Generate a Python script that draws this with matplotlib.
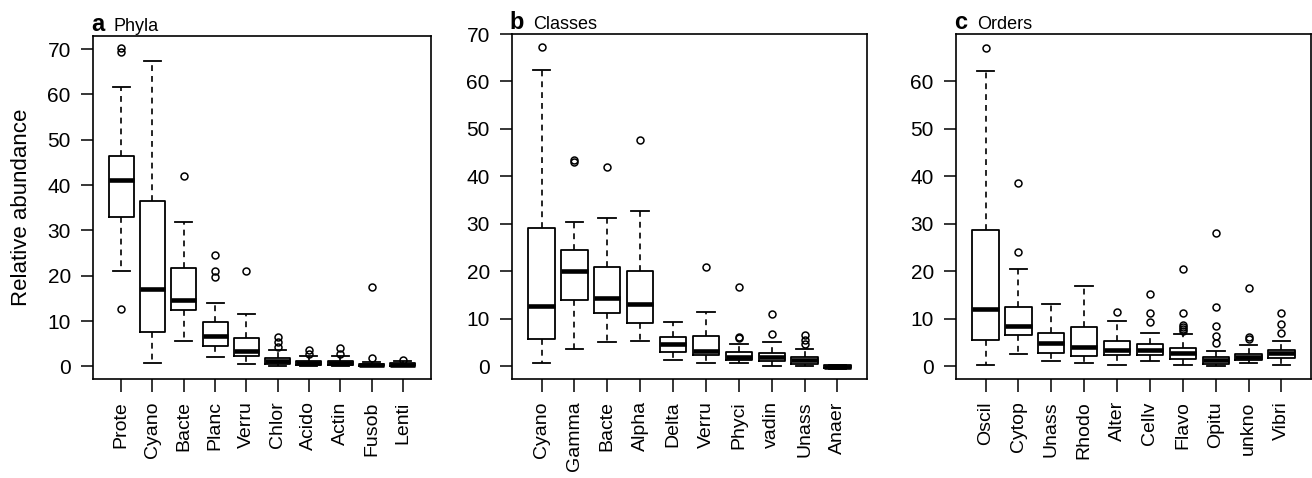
import matplotlib
matplotlib.use("Agg")
import matplotlib.pyplot as plt

plt.rcParams['font.family'] = ['Liberation Sans', 'DejaVu Sans']

# ---------------- data ----------------
phyla_labels = ["Prote", "Cyano", "Bacte", "Planc", "Verru", "Chlor", "Acido", "Actin", "Fusob", "Lenti"]
phyla_med = [41.1, 17.1, 14.6, 6.6, 3.3, 1.1, 0.7, 0.8, 0.2, 0.35]
phyla_q1 = [32.9, 7.6, 12.5, 4.4, 2.35, 0.5, 0.35, 0.4, 0.0, 0.1]
phyla_q3 = [46.5, 36.5, 21.7, 9.85, 6.25, 1.9, 1.2, 1.25, 0.6, 0.7]
phyla_lo = [21.0, 0.7, 5.5, 2.1, 0.6, 0.0, 0.05, 0.1, 0.0, 0.0]
phyla_hi = [61.6, 67.3, 31.9, 14.0, 11.5, 3.6, 2.3, 2.2, 1.0, 1.1]
phyla_fliers = [[69.4, 70.2, 12.7], [], [42.1], [24.6, 21.1, 19.7], [21.0],
                [6.4, 5.3, 4.3], [3.5, 2.8], [4.0, 2.7], [17.6, 1.8], [1.4]]

class_labels = ["Cyano", "Gamma", "Bacte", "Alpha", "Delta", "Verru", "Phyci", "vadin", "Unass", "Anaer"]
class_med = [12.7, 20.0, 14.3, 13.1, 4.7, 3.2, 2.0, 1.9, 1.2, -0.1]
class_q1 = [5.7, 14.0, 11.3, 9.1, 2.95, 2.4, 1.2, 1.0, 0.5, -0.3]
class_q3 = [29.2, 24.5, 20.9, 20.0, 6.25, 6.4, 2.9, 2.7, 1.95, 0.2]
class_lo = [0.6, 3.6, 5.2, 5.3, 1.2, 0.77, 0.77, 0.1, 0.1, -0.5]
class_hi = [62.4, 30.3, 31.2, 32.8, 9.3, 11.5, 4.6, 5.0, 3.7, 0.3]
class_fliers = [[67.2], [43.0, 43.4], [42.0], [47.7], [], [21.0],
                [16.7, 6.2, 5.9], [10.9, 6.7], [6.5, 5.5, 4.6], []]

order_labels = ["Oscil", "Cytop", "Unass", "Rhodo", "Alter", "Cellv", "Flavo", "Opitu", "unkno", "Vibri"]
order_med = [12.05, 8.5, 4.9, 4.1, 3.4, 3.4, 2.7, 1.3, 1.9, 2.7]
order_q1 = [5.5, 6.5, 2.7, 2.2, 2.3, 2.45, 1.5, 0.5, 1.2, 1.8]
order_q3 = [28.6, 12.4, 6.9, 8.3, 5.4, 4.7, 3.8, 2.0, 2.6, 3.5]
order_lo = [0.15, 2.6, 1.0, 0.6, 0.35, 1.0, 0.35, 0.0, 0.6, 0.35]
order_hi = [62.2, 20.4, 13.1, 16.8, 9.6, 7.0, 6.7, 3.1, 4.4, 5.2]
order_fliers = [[67.0], [38.6, 24.0], [], [], [11.3], [15.2, 11.1, 9.2],
                [20.4, 11.1, 8.7, 8.3, 7.8, 7.3], [28.0, 12.5, 8.5, 6.4, 4.8],
                [16.5, 6.1, 5.8], [11.2, 8.8, 6.9]]

panel_letters = ["a", "b", "c"]
panel_names = ["Phyla", "Classes", "Orders"]
y_label = "Relative abundance"

# ---------------- figure ----------------
W, H = 1312, 478
fig = plt.figure(figsize=(W / 100, H / 100), dpi=100)

def px_axes(left, right, top, bottom):
    return [left / W, 1 - bottom / H, (right - left) / W, (bottom - top) / H]

axes_rects = [px_axes(93, 431, 36, 379), px_axes(512, 867, 34, 379), px_axes(956, 1311, 34, 379)]
ylims = [(-2.8, 72.9), (-2.7, 70.0), (-2.7, 69.9)]
yticks = [list(range(0, 71, 10)), list(range(0, 71, 10)), list(range(0, 61, 10))]

datasets = [
    (phyla_labels, phyla_med, phyla_q1, phyla_q3, phyla_lo, phyla_hi, phyla_fliers),
    (class_labels, class_med, class_q1, class_q3, class_lo, class_hi, class_fliers),
    (order_labels, order_med, order_q1, order_q3, order_lo, order_hi, order_fliers),
]

for i, (labels, med, q1, q3, lo, hi, fl) in enumerate(datasets):
    ax = fig.add_axes(axes_rects[i])
    stats = []
    for j in range(len(labels)):
        stats.append(dict(label=labels[j], med=med[j], q1=q1[j], q3=q3[j],
                          whislo=lo[j], whishi=hi[j], fliers=fl[j]))
    ax.bxp(stats, positions=list(range(1, len(labels) + 1)), widths=0.8, capwidths=0.54,
           boxprops=dict(linewidth=1.3, color='black'),
           medianprops=dict(linewidth=3.3, color='black', solid_capstyle='butt'),
           whiskerprops=dict(linewidth=1.2, color='black', linestyle=(0, (3.5, 3))),
           capprops=dict(linewidth=1.3, color='black'),
           flierprops=dict(marker='o', markerfacecolor='none', markeredgecolor='black',
                           markersize=5, markeredgewidth=1.1, linestyle='none'))
    ax.set_xlim(0.1, len(labels) + 0.9)
    ax.set_ylim(*ylims[i])
    ax.set_yticks(yticks[i])
    ax.set_xticks(list(range(1, len(labels) + 1)))
    ax.set_xticklabels(labels, rotation=90, fontsize=14)
    ax.tick_params(axis='y', labelsize=15, length=9, width=1.1, pad=7)
    ax.tick_params(axis='x', length=9, width=1.1, pad=7)
    for sp in ax.spines.values():
        sp.set_linewidth(1.2)
    ax.annotate(panel_letters[i], xy=(0, 1), xycoords='axes fraction',
                xytext=(-1.5, 3.5), textcoords='offset points',
                fontsize=17, fontweight='bold', ha='left', va='baseline')
    ax.annotate(panel_names[i], xy=(0, 1), xycoords='axes fraction',
                xytext=(15, 3.5), textcoords='offset points',
                fontsize=13, ha='left', va='baseline')

fig.text(22 / W, 1 - 207 / H, y_label, rotation=90, ha='center', va='center', fontsize=16)

fig.savefig("out.png", dpi=100)
